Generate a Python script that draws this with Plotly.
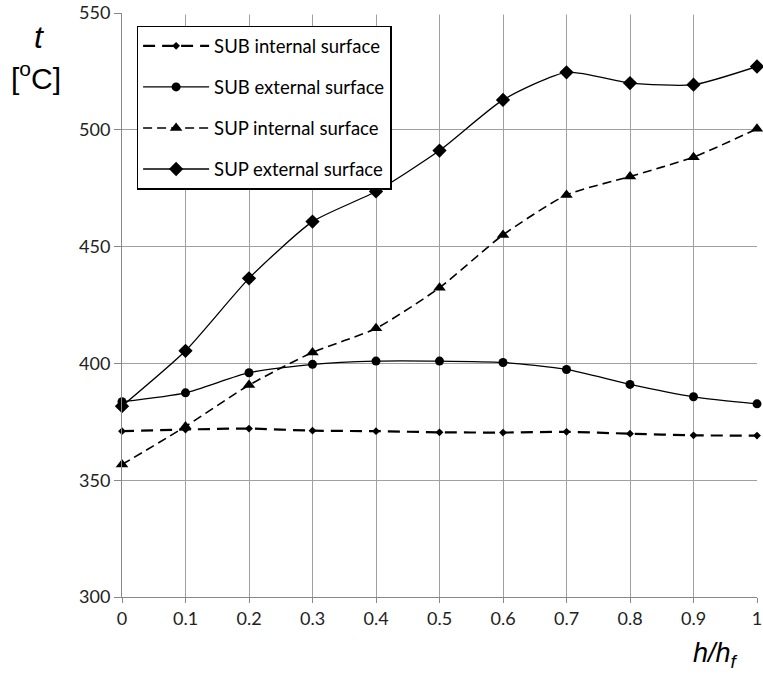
import plotly.graph_objects as go

x_vals = [0, 0.1, 0.2, 0.3, 0.4, 0.5, 0.6, 0.7, 0.8, 0.9, 1.0]
sub_internal = [371.0, 371.7, 372.1, 371.2, 371.0, 370.5, 370.4, 370.7, 369.9, 369.2, 369.1]
sub_external = [383.6, 387.4, 396.0, 399.6, 401.0, 401.0, 400.4, 397.4, 391.0, 385.7, 382.7]
sup_internal = [356.7, 373.0, 390.7, 404.7, 415.0, 432.4, 455.0, 472.1, 480.0, 488.3, 500.4]
sup_external = [381.7, 405.4, 436.4, 460.7, 473.6, 491.1, 512.8, 524.6, 520.0, 519.3, 527.1]

x_ticks = [0, 0.1, 0.2, 0.3, 0.4, 0.5, 0.6, 0.7, 0.8, 0.9, 1.0]
x_tick_text = ["0", "0.1", "0.2", "0.3", "0.4", "0.5", "0.6", "0.7", "0.8", "0.9", "1"]
y_ticks = [300, 350, 400, 450, 500, 550]
y_top = 550

series = [
    ("SUB internal surface", sub_internal, dict(dash="12px,7px", width=2.2), dict(symbol="diamond", size=6)),
    ("SUB external surface", sub_external, dict(dash="solid", width=1.3), dict(symbol="circle", size=9)),
    ("SUP internal surface", sup_internal, dict(dash="9px,5px", width=1.6), dict(symbol="triangle-up", size=11)),
    ("SUP external surface", sup_external, dict(dash="solid", width=1.3), dict(symbol="diamond", size=11)),
]

fig = go.Figure()
for i, (name, ys, line, marker) in enumerate(series):
    fig.add_trace(go.Scatter(
        x=x_vals, y=ys, name=name, mode="lines+markers",
        line=dict(color="black", shape="spline", smoothing=0.6, **line),
        marker=dict(color="black", **marker),
        legendgroup=f"g{i}", cliponaxis=False,
    ))

L, R, T, B = 122, 6, 13, 78
W, H = 763, 675
fig.update_layout(
    width=W, height=H,
    margin=dict(l=L, r=R, t=T, b=B, autoexpand=False),
    plot_bgcolor="white", paper_bgcolor="white",
    font=dict(family="Lato, sans-serif", size=18, color="#222"),
    showlegend=True,
    legend=dict(
        x=0.023, y=0.978, xanchor="left", yanchor="top",
        bgcolor="white", bordercolor="black", borderwidth=1.5,
        font=dict(family="Lato, sans-serif", size=18.5, color="black"),
        tracegroupgap=14, itemwidth=66,
    ),
    xaxis=dict(
        range=[0, 1], tickvals=x_ticks, ticktext=x_tick_text,
        showgrid=True, gridcolor="#a0a0a0", gridwidth=1,
        showline=True, linecolor="#888", linewidth=1,
        ticks="outside", ticklen=5, tickcolor="#888",
        zeroline=False, automargin=False, ticklabeloverflow="allow",
    ),
    yaxis=dict(
        range=[300, 550], tickvals=y_ticks,
        showgrid=True, gridcolor="#a0a0a0", gridwidth=1,
        showline=True, linecolor="#888", linewidth=1,
        ticks="outside", ticklen=7, tickcolor="#888",
        zeroline=False, automargin=False, ticklabeloverflow="allow",
    ),
)

# hide the top gridline (the reference has none at 550)
fig.add_shape(type="line", xref="paper", yref="y", x0=0.003, x1=0.997, y0=y_top, y1=y_top,
              line=dict(color="white", width=3), layer="above")

pw = W - L - R
ph = H - T - B
def to_paper(px, py):
    return (px - L) / pw, 1 - (py - T) / ph

labels = [
    ("<i>t</i>", 39, 37, 32),
    ("[<sup>o</sup>C]", 36, 76, 30),
    ("<i>h/h<sub>f</sub></i>", 715, 655, 27),
]
for text, px, py, size in labels:
    ax, ay = to_paper(px, py)
    fig.add_annotation(text=text, x=ax, y=ay, xref="paper", yref="paper",
                       showarrow=False, xanchor="center", yanchor="middle",
                       font=dict(family="Liberation Sans, Arial", size=size, color="black"))

fig.write_html("out.html", config={"displayModeBar": False},
               post_script="document.body.style.margin='0';")
